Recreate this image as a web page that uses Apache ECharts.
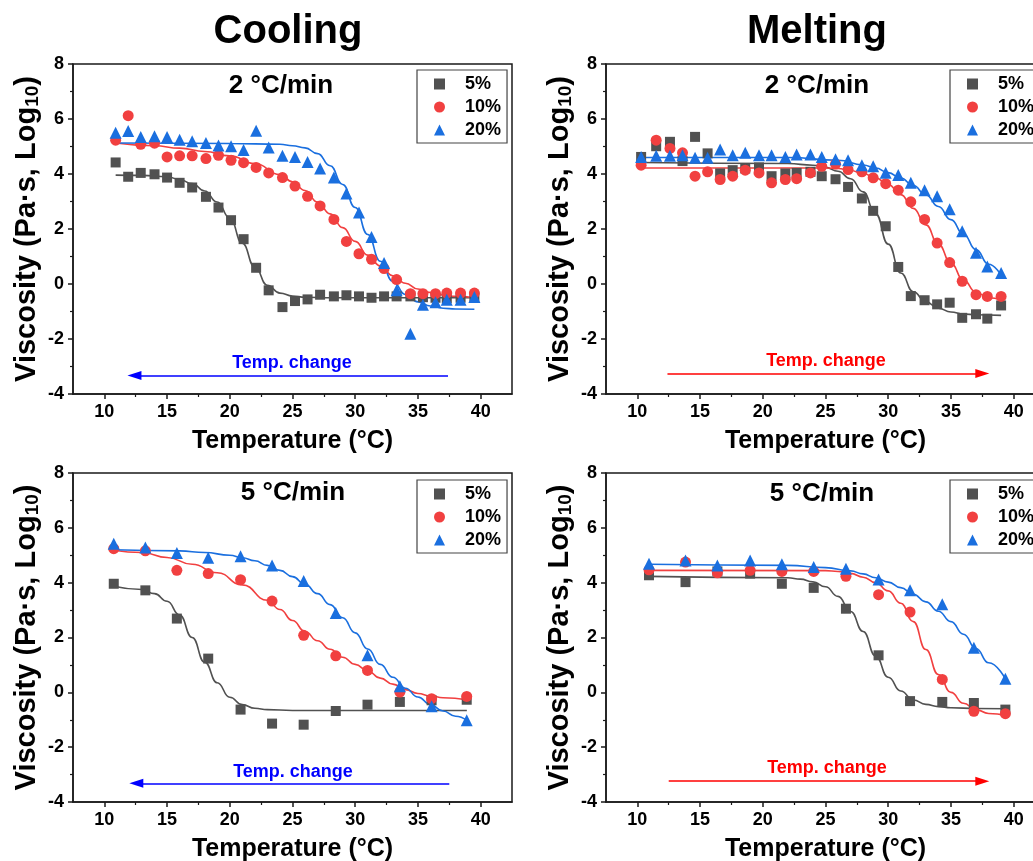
<!DOCTYPE html>
<html>
<head>
<meta charset="utf-8">
<script src="https://cdn.jsdelivr.net/npm/echarts@6/dist/echarts.min.js"></script>
<style>html,body{margin:0;padding:0;background:#fff}#c{width:1033px;height:861px}</style>
</head>
<body>
<div id="c"></div>
<script>
// ---------- DATA ----------
const seriesNames = ['5%', '10%', '20%'];
const xTickLabels = [10, 15, 20, 25, 30, 35, 40];
const xMinorTicks = [12.5, 17.5, 22.5, 27.5, 32.5, 37.5];
const yTickLabels = [-4, -2, 0, 2, 4, 6, 8];

// Cooling, 2 °C/min
const cool2_T = [10.9, 11.9, 12.9, 14.0, 15.0, 16.0, 17.0, 18.1, 19.1, 20.1, 21.1, 22.1, 23.1, 24.2, 25.2, 26.2, 27.2, 28.3, 29.3, 30.3, 31.3, 32.3, 33.3, 34.4, 35.4, 36.4, 37.3, 38.4, 39.5];
const cool2_5 = [4.42, 3.90, 4.04, 3.99, 3.87, 3.68, 3.51, 3.17, 2.78, 2.32, 1.63, 0.59, -0.23, -0.84, -0.62, -0.56, -0.39, -0.45, -0.41, -0.45, -0.50, -0.45, -0.45, -0.45, -0.48, -0.50, -0.52, -0.50, -0.50];
const cool2_10 = [5.23, 6.12, 5.08, 5.12, 4.62, 4.66, 4.66, 4.56, 4.68, 4.50, 4.41, 4.24, 4.04, 3.87, 3.56, 3.19, 2.84, 2.35, 1.55, 1.10, 0.90, 0.56, 0.16, -0.35, -0.35, -0.35, -0.33, -0.33, -0.33];
const cool2_20 = [5.50, 5.56, 5.35, 5.37, 5.35, 5.25, 5.19, 5.13, 5.04, 5.01, 4.87, 5.57, 4.96, 4.66, 4.62, 4.44, 4.20, 3.87, 3.29, 2.60, 1.71, 0.76, -0.23, -1.81, -0.75, -0.66, -0.57, -0.57, -0.47];
const cool2_fit5 = [[10.9,3.96],[13,3.95],[15,3.90],[16,3.80],[17,3.65],[18,3.38],[19,2.98],[20,2.40],[21,1.48],[22,0.61],[23,-0.05],[24,-0.33],[25,-0.44],[26,-0.48],[28,-0.50],[39.5,-0.50]];
const cool2_fit10 = [[10.9,5.13],[14,5.03],[16,4.94],[18,4.82],[20,4.66],[22,4.38],[24,3.98],[25,3.72],[26,3.40],[27,2.98],[28,2.55],[29,2.05],[30,1.55],[31,1.05],[32,0.66],[33,0.30],[34,0.03],[35,-0.18],[36,-0.31],[37,-0.40],[38,-0.45],[39.5,-0.50]];
const cool2_fit20 = [[10.9,5.13],[20,5.11],[24,5.08],[25,5.03],[26,4.95],[27,4.74],[28,4.30],[29,3.62],[30,2.78],[31,1.80],[32,0.83],[33,0.10],[34,-0.38],[35,-0.65],[36,-0.80],[37,-0.88],[38,-0.91],[39.5,-0.92]];

// Melting, 2 °C/min
const melt2_T = [10.3, 11.5, 12.6, 13.6, 14.6, 15.6, 16.6, 17.6, 18.6, 19.7, 20.7, 21.8, 22.7, 23.8, 24.7, 25.8, 26.8, 27.9, 28.8, 29.8, 30.8, 31.8, 32.9, 33.9, 34.9, 35.9, 37.0, 37.9, 39.0];
const melt2_5 = [4.62, 5.01, 5.17, 4.47, 5.35, 4.75, 4.02, 4.14, 4.20, 4.24, 3.92, 4.02, 4.04, 4.08, 3.92, 3.81, 3.53, 3.11, 2.66, 2.10, 0.62, -0.44, -0.59, -0.74, -0.68, -1.23, -1.10, -1.26, -0.78];
const melt2_10 = [4.32, 5.23, 4.93, 4.77, 3.92, 4.08, 3.80, 3.92, 4.14, 4.04, 3.68, 3.80, 3.83, 4.04, 4.28, 4.36, 4.16, 4.08, 3.86, 3.65, 3.41, 2.99, 2.35, 1.49, 0.78, 0.10, -0.39, -0.45, -0.45];
const melt2_20 = [4.62, 4.66, 4.66, 4.68, 4.59, 4.59, 4.89, 4.68, 4.77, 4.68, 4.68, 4.62, 4.71, 4.71, 4.62, 4.54, 4.50, 4.32, 4.28, 4.05, 3.96, 3.68, 3.41, 3.19, 2.72, 1.92, 1.14, 0.64, 0.40];
const melt2_fit5 = [[10.3,4.42],[22,4.38],[24,4.32],[25,4.24],[26,4.10],[27,3.83],[28,3.35],[29,2.55],[30,1.45],[31,0.40],[32,-0.28],[33,-0.65],[34,-0.88],[35,-1.02],[36,-1.09],[37,-1.12],[39,-1.14]];
const melt2_fit10 = [[10.3,4.22],[25,4.22],[26,4.20],[27,4.13],[28,4.02],[29,3.86],[30,3.62],[31,3.25],[32,2.75],[33,2.15],[34,1.45],[35,0.76],[36,0.14],[37,-0.30],[38,-0.50],[39,-0.57]];
const melt2_fit20 = [[10.3,4.60],[22,4.60],[26,4.50],[28,4.33],[29,4.22],[30,4.05],[31,3.85],[32,3.58],[33,3.24],[34,2.82],[35,2.34],[36,1.81],[37,1.25],[38,0.72],[39,0.32]];

// Cooling, 5 °C/min
const cool5_T = [10.75, 13.27, 15.78, 18.28, 20.86, 23.37, 25.89, 28.45, 30.98, 33.56, 36.09, 38.89];
const cool5_5 = [3.96, 3.72, 2.69, 1.23, -0.63, -1.14, -1.18, -0.68, -0.45, -0.35, -0.29, -0.27];
const cool5_10 = [5.24, 5.16, 4.45, 4.33, 4.11, 3.33, 2.08, 1.33, 0.80, 0.01, -0.23, -0.15];
const cool5_20 = [5.42, 5.28, 5.08, 4.91, 4.96, 4.63, 4.06, 2.89, 1.35, 0.22, -0.51, -1.02];
const cool5_fit5 = [[10.75,3.87],[13,3.75],[14,3.60],[15,3.32],[16,2.82],[17,2.00],[18,1.10],[19,0.35],[20,-0.18],[21,-0.45],[22,-0.58],[23,-0.63],[25,-0.66],[38.9,-0.66]];
const cool5_fit10 = [[10.75,5.18],[13,5.10],[15,4.92],[17,4.67],[19,4.36],[21,3.92],[23,3.36],[24,3.02],[25,2.62],[26,2.22],[27,1.88],[28,1.57],[29,1.28],[30,1.02],[31,0.78],[32,0.52],[33,0.30],[34,0.10],[35,-0.04],[36,-0.13],[37,-0.20],[38.9,-0.27]];
const cool5_fit20 = [[10.75,5.20],[16,5.16],[18,5.10],[20,5.00],[21,4.91],[22,4.80],[23,4.63],[24,4.45],[25,4.22],[26,3.94],[27,3.60],[28,3.20],[29,2.72],[30,2.17],[31,1.58],[32,1.02],[33,0.55],[34,0.15],[35,-0.17],[36,-0.45],[37,-0.68],[38,-0.87],[38.9,-1.02]];

// Melting, 5 °C/min
const melt5_T = [10.93, 13.84, 16.38, 18.99, 21.52, 24.06, 26.63, 29.23, 31.74, 34.31, 36.83, 39.34];
const melt5_5 = [4.27, 4.02, 4.41, 4.33, 3.96, 3.81, 3.05, 1.35, -0.32, -0.35, -0.39, -0.63];
const melt5_10 = [4.47, 4.75, 4.36, 4.45, 4.41, 4.41, 4.23, 3.56, 2.93, 0.47, -0.69, -0.78];
const melt5_20 = [4.69, 4.81, 4.63, 4.81, 4.67, 4.57, 4.51, 4.12, 3.72, 3.21, 1.63, 0.50];
const melt5_fit5 = [[10.93,4.23],[22,4.18],[23,4.13],[24,4.03],[25,3.85],[26,3.50],[27,2.95],[28,2.22],[29,1.32],[30,0.55],[31,0.05],[32,-0.28],[33,-0.44],[34,-0.52],[35,-0.56],[37,-0.59],[39.4,-0.60]];
const melt5_fit10 = [[10.93,4.45],[25,4.44],[26,4.41],[27,4.34],[28,4.20],[29,4.00],[30,3.70],[31,3.25],[32,2.58],[33,1.56],[34,0.65],[35,0.00],[36,-0.40],[37,-0.63],[38,-0.77],[39.4,-0.84]];
const melt5_fit20 = [[10.93,4.67],[22,4.63],[25,4.55],[27,4.43],[28,4.32],[29,4.18],[30,4.02],[31,3.82],[32,3.58],[33,3.30],[34,2.96],[35,2.58],[36,2.12],[37,1.60],[38,1.08],[39.4,0.44]];

// Arrow annotations (data coordinates: [xStart, xEnd, y])
const arrowCool2 = [37.4, 12.4, -3.33];
const arrowMelt2 = [12.4, 37.5, -3.25];
const arrowCool5 = [37.5, 12.55, -3.32];
const arrowMelt5 = [12.5, 37.5, -3.24];

// ---------- STYLE / LAYOUT ----------
const FONT = '"Liberation Sans", Arial, Helvetica, sans-serif';
const COLORS = ['#515151', '#F14040', '#1A6FDF'];
const SYMBOLS = ['rect', 'circle', 'triangle'];
const SYMSIZE = [10, 11, 12];
const AXC = '#1a1a1a';

const panels = [
  {left: 73, top: 64, width: 439, height: 330, T: cool2_T, ys: [cool2_5, cool2_10, cool2_20], fits: [cool2_fit5, cool2_fit10, cool2_fit20], arrow: arrowCool2, arrowColor: '#0000FF'},
  {left: 606, top: 64, width: 439, height: 330, T: melt2_T, ys: [melt2_5, melt2_10, melt2_20], fits: [melt2_fit5, melt2_fit10, melt2_fit20], arrow: arrowMelt2, arrowColor: '#FF0000'},
  {left: 73, top: 473, width: 439, height: 329, T: cool5_T, ys: [cool5_5, cool5_10, cool5_20], fits: [cool5_fit5, cool5_fit10, cool5_fit20], arrow: arrowCool5, arrowColor: '#0000FF'},
  {left: 606, top: 473, width: 439, height: 329, T: melt5_T, ys: [melt5_5, melt5_10, melt5_20], fits: [melt5_fit5, melt5_fit10, melt5_fit20], arrow: arrowMelt5, arrowColor: '#FF0000'}
];

const grid = [], xAxis = [], yAxis = [], series = [], legend = [];
panels.forEach((p, i) => {
  grid.push({left: p.left, top: p.top, width: p.width, height: p.height, show: true,
    borderColor: AXC, borderWidth: 1.5, backgroundColor: 'transparent',
    containLabel: false, outerBoundsMode: 'none'});
  xAxis.push({type: 'value', gridIndex: i, min: 7.5, max: 42.5, position: 'bottom',
    name: 'Temperature (°C)', nameLocation: 'middle', nameGap: 35,
    nameTextStyle: {fontFamily: FONT, fontWeight: 'bold', fontSize: 25, color: '#000'},
    axisLine: {show: true, onZero: false, lineStyle: {color: AXC, width: 1.5}},
    axisTick: {show: true, inside: false, length: 5, customValues: xTickLabels, lineStyle: {color: AXC, width: 1.5}},
    axisLabel: {show: true, customValues: xTickLabels, margin: 9, fontFamily: FONT, fontWeight: 'bold', fontSize: 18, color: '#000'},
    splitLine: {show: false}});
  xAxis.push({type: 'value', gridIndex: i, min: 7.5, max: 42.5, position: 'bottom',
    axisLine: {show: false, onZero: false},
    axisTick: {show: true, inside: false, length: 3, customValues: xMinorTicks, lineStyle: {color: AXC, width: 1.2}},
    axisLabel: {show: false}, splitLine: {show: false}});
  yAxis.push({type: 'value', gridIndex: i, min: -4, max: 8, interval: 2,
    name: 'Viscosity (Pa·s, Log{sub|10})', nameLocation: 'middle', nameGap: 31, nameRotate: 90,
    nameTextStyle: {fontFamily: FONT, fontWeight: 'bold', fontSize: 29, color: '#000',
      rich: {sub: {fontFamily: FONT, fontWeight: 'bold', fontSize: 19, color: '#000', verticalAlign: 'bottom', padding: [11, 0, 0, 0]}}},
    axisLine: {show: true, onZero: false, lineStyle: {color: AXC, width: 1.5}},
    axisTick: {show: true, inside: false, length: 5, lineStyle: {color: AXC, width: 1.5}},
    minorTick: {show: true, splitNumber: 2, length: 3, lineStyle: {color: AXC, width: 1.2}},
    axisLabel: {show: true, margin: 9, fontFamily: FONT, fontWeight: 'bold', fontSize: 18, color: '#000'},
    splitLine: {show: false}, minorSplitLine: {show: false}});
  for (let k = 0; k < 3; k++) {
    const fitSeries = {
      type: 'line', name: seriesNames[k] + ' fit', xAxisIndex: 2 * i, yAxisIndex: i,
      data: p.fits[k], smooth: 0.5, smoothMonotone: 'x', showSymbol: false, symbol: 'none',
      lineStyle: {color: COLORS[k], width: 1.6}, z: 2, silent: true, animation: false
    };
    if (k === 0) {
      const a = p.arrow;
      fitSeries.markLine = {
        silent: true, animation: false, symbol: ['none', 'triangle'], symbolSize: [9, 14],
        lineStyle: {color: p.arrowColor, width: 1.6, type: 'solid'},
        label: {show: false},
        data: [[{coord: [a[0], a[2]]}, {coord: [a[1], a[2]]}]]
      };
    }
    series.push(fitSeries);
    series.push({
      type: 'scatter', name: seriesNames[k], xAxisIndex: 2 * i, yAxisIndex: i,
      data: p.T.map((t, j) => [t, p.ys[k][j]]),
      symbol: SYMBOLS[k], symbolSize: SYMSIZE[k],
      itemStyle: {color: COLORS[k], opacity: 1}, z: 3 + k, animation: false
    });
  }
});

const legendPos = [
  {left: 417, top: 70}, {left: 950, top: 70}, {left: 417, top: 480}, {left: 950, top: 480}
];
legendPos.forEach(lp => {
  legend.push({
    data: seriesNames, orient: 'vertical', left: lp.left, top: lp.top,
    itemWidth: 11, itemHeight: 11, itemGap: 5,
    padding: [5, 6, 4, 17], borderColor: '#444', borderWidth: 1.2, backgroundColor: '#fff',
    selectedMode: false,
    textStyle: {fontFamily: FONT, fontWeight: 'bold', fontSize: 18, color: '#000', lineHeight: 18, padding: [0, 0, 0, 15]}
  });
});

const textEl = (x, y, text, size, color) => ({
  type: 'text', x: x, y: y, silent: true,
  style: {text: text, fill: color, font: 'bold ' + size + 'px ' + FONT, textAlign: 'center', textVerticalAlign: 'middle'}
});

const graphic = [
  textEl(288, 32, 'Cooling', 40, '#000'),
  textEl(817, 32, 'Melting', 40, '#000'),
  textEl(281, 86, '2 °C/min', 26, '#000'),
  textEl(817, 86, '2 °C/min', 26, '#000'),
  textEl(293, 493, '5 °C/min', 26, '#000'),
  textEl(822, 494, '5 °C/min', 26, '#000'),
  textEl(292, 363, 'Temp. change', 18, '#0000FF'),
  textEl(826, 361, 'Temp. change', 18, '#FF0000'),
  textEl(293, 772, 'Temp. change', 18, '#0000FF'),
  textEl(827, 768, 'Temp. change', 18, '#FF0000')
];

const chart = echarts.init(document.getElementById('c'), null, {renderer: 'canvas'});
chart.setOption({
  animation: false,
  backgroundColor: '#fff',
  grid, xAxis, yAxis, series, legend, graphic
});
</script>
</body>
</html>
